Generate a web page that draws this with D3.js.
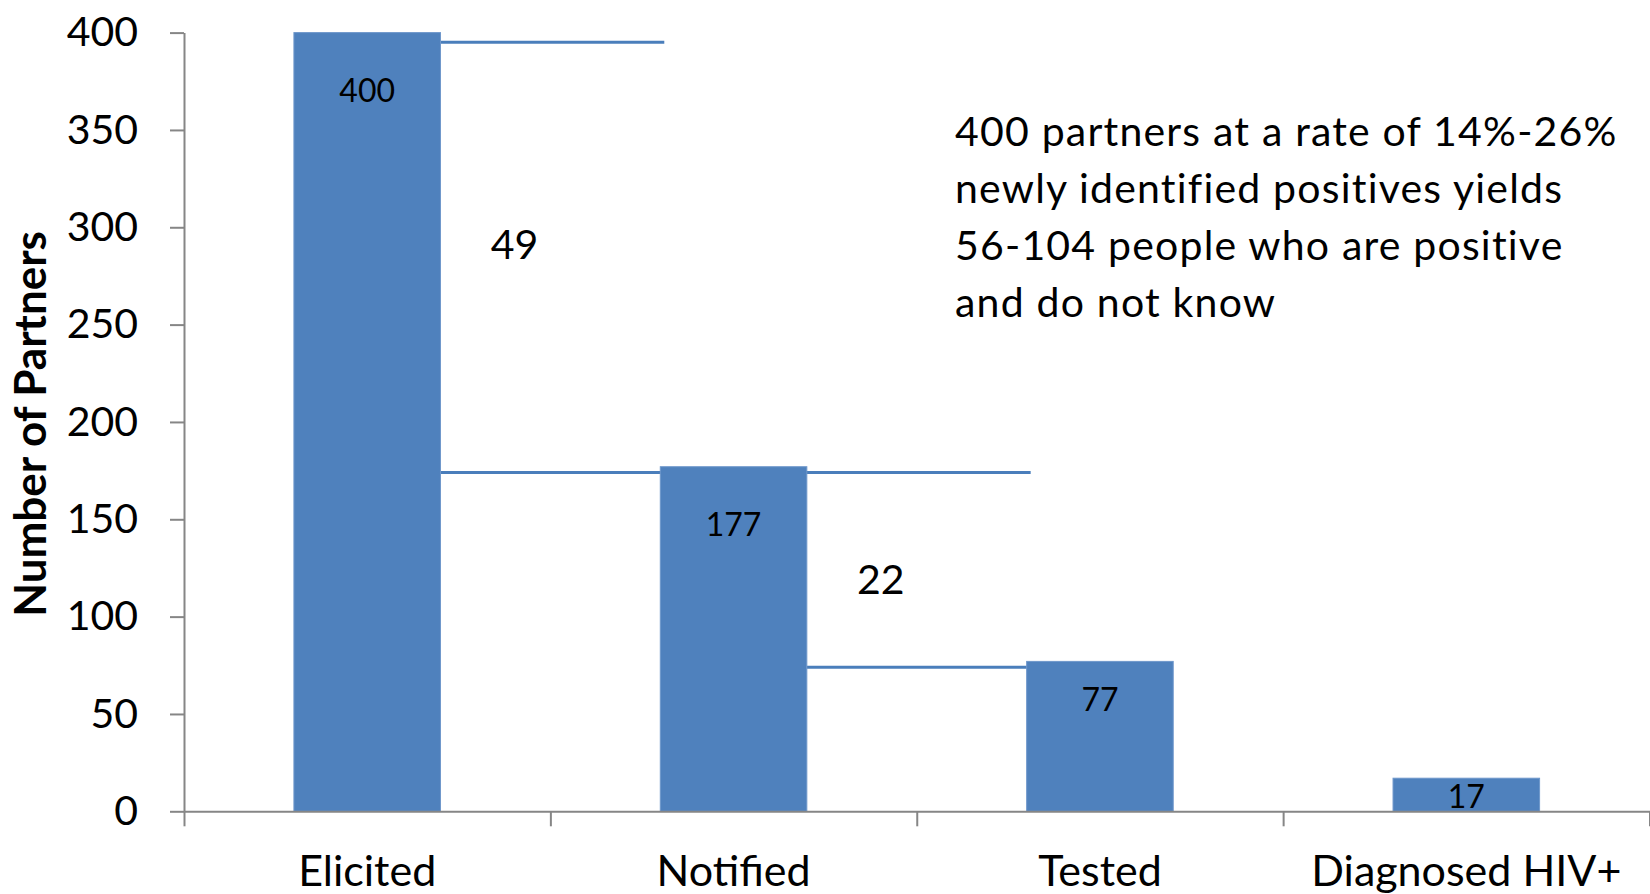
<!DOCTYPE html>
<html>
<head>
<meta charset="utf-8">
<script src="https://cdn.jsdelivr.net/npm/d3@7"></script>
<style>
  html, body { margin: 0; padding: 0; background: #fff; }
  svg { display: block; font-family: Lato, "Open Sans", sans-serif; }
  .axis path, .axis line { stroke: #868686; stroke-width: 2; }
  .axis text { fill: #000; }
</style>
</head>
<body>
<svg id="chart" width="1650" height="894"></svg>
<script>
// chart values
const categories = ["Elicited", "Notified", "Tested", "Diagnosed HIV+"];
const partners = [400, 177, 77, 17];
const yTicks = [0, 50, 100, 150, 200, 250, 300, 350, 400];

// drop lines between stages, and the drop counts written between them
const connectorValues = [395, 174, 74];
const connectorFrom = ["Elicited", "Elicited", "Notified"];
const connectorTo = ["Notified", "Tested", "Tested"];
const gapLabels = ["49", "22"];
const gapLabelFrom = ["Elicited", "Notified"];

const noteLines = [
  "400 partners at a rate of 14%-26%",
  "newly identified positives yields",
  "56-104 people who are positive",
  "and do not know"
];

const svg = d3.select("#chart");
const margin = { top: 32.6, left: 184, right: 0.5, bottom: 82.7 };
const width = 1650;
const height = 894;

const x = d3
  .scaleBand()
  .domain(categories)
  .range([margin.left, width - margin.right])
  .paddingInner(0.6)
  .paddingOuter(0.3);

const y = d3
  .scaleLinear()
  .domain([0, 400])
  .range([height - margin.bottom, margin.top]);

// category boundaries for the x tick marks
const edges = d3
  .scalePoint()
  .domain(d3.range(categories.length + 1))
  .range([margin.left, width - margin.right]);

// connector lines sit behind the bars
svg
  .append("g")
  .selectAll("line")
  .data(connectorValues)
  .enter()
  .append("line")
  .attr("x1", (d, i) => x(connectorFrom[i]) + x.bandwidth())
  .attr("x2", (d, i) => x(connectorTo[i]) + 4)
  .attr("y1", d => y(d))
  .attr("y2", d => y(d))
  .attr("stroke", "#4A7EBB")
  .attr("stroke-width", 3);

svg
  .append("g")
  .selectAll("rect")
  .data(partners)
  .enter()
  .append("rect")
  .attr("x", (d, i) => x(categories[i]))
  .attr("y", d => y(d))
  .attr("width", x.bandwidth())
  .attr("height", d => y(0) - y(d))
  .attr("fill", "#4F81BD")
  .attr("stroke", "#6E97CB")
  .attr("stroke-width", 1);

// value labels inside the bars
svg
  .append("g")
  .selectAll("text")
  .data(partners)
  .enter()
  .append("text")
  .attr("x", (d, i) => x(categories[i]) + x.bandwidth() / 2)
  .attr("y", d => {
    const h = y(0) - y(d);
    const off = Math.min(h / 2 + 2, 20 + h * 0.12, 58);
    return y(d) + off + 11.5;
  })
  .attr("text-anchor", "middle")
  .attr("font-size", 32)
  .text(d => d);

// x axis: boundary ticks, then category names
svg
  .append("g")
  .attr("class", "axis")
  .attr("transform", `translate(0,${y(0)})`)
  .call(
    d3
      .axisBottom(edges)
      .tickSize(15)
      .tickSizeOuter(0)
      .tickFormat("")
  );

svg
  .append("g")
  .attr("class", "axis")
  .attr("transform", `translate(0,${y(0)})`)
  .call(d3.axisBottom(x).tickSize(0).tickPadding(44))
  .call(g => g.select(".domain").remove())
  .selectAll("text")
  .attr("font-size", 43)
  .attr("font-family", "Lato");

svg
  .append("g")
  .attr("class", "axis")
  .attr("transform", `translate(${margin.left},0)`)
  .call(
    d3
      .axisLeft(y)
      .tickValues(yTicks)
      .tickSize(14)
      .tickSizeOuter(0)
      .tickPadding(32)
  )
  .selectAll("text")
  .attr("font-size", 41)
  .attr("font-family", "Lato");

svg
  .append("text")
  .attr("transform", `translate(46,${(y(0) + y(400)) / 2 + 2}) rotate(-90)`)
  .attr("text-anchor", "middle")
  .attr("font-size", 44)
  .attr("font-weight", "bold")
  .text("Number of Partners");

// drop counts between the stages (second one sits a bit lower)
const gapShift = [0, 22];
svg
  .append("g")
  .selectAll("text")
  .data(gapLabels)
  .enter()
  .append("text")
  .attr("x", (d, i) => x(gapLabelFrom[i]) + x.bandwidth() + 74)
  .attr("y", (d, i) => y((connectorValues[i] + connectorValues[i + 1]) / 2) + 2 + gapShift[i])
  .attr("text-anchor", "middle")
  .attr("font-size", 41)
  .text(d => d);

svg
  .append("g")
  .selectAll("text")
  .data(noteLines)
  .enter()
  .append("text")
  .attr("x", 955)
  .attr("y", (d, i) => 146 + i * 57)
  .attr("font-size", 41)
  .attr("letter-spacing", 1.2)
  .text(d => d);
</script>
</body>
</html>
